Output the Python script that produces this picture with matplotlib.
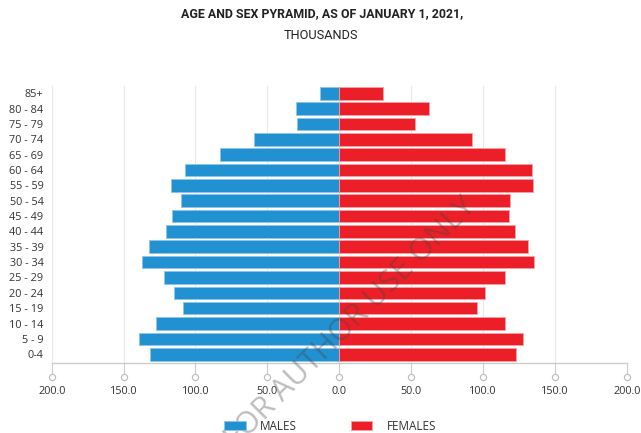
import matplotlib
matplotlib.use("Agg")
import matplotlib.pyplot as plt
from matplotlib import font_manager
from matplotlib.transforms import blended_transform_factory, offset_copy
import numpy as np

# age groups from youngest to oldest
age_groups = ["0-4", "5 - 9", "10 - 14", "15 - 19", "20 - 24", "25 - 29", "30 - 34",
              "35 - 39", "40 - 44", "45 - 49", "50 - 54", "55 - 59", "60 - 64",
              "65 - 69", "70 - 74", "75 - 79", "80 - 84", "85+"]
males = [131.6, 139.3, 127.5, 108.7, 114.7, 122.1, 137.4, 132.1, 120.5, 116.1,
         110.3, 116.8, 107.0, 82.7, 59.3, 29.4, 30.1, 13.4]
females = [122.7, 128.2, 115.2, 96.0, 101.3, 115.0, 135.6, 131.0, 122.0, 118.2,
           118.9, 134.9, 134.0, 115.4, 92.5, 52.9, 62.4, 30.4]
xticks = [-200, -150, -100, -50, 0, 50, 100, 150, 200]

blue = "#2291d1"
red = "#ec1f28"
txt = "#333333"

# narrow font for the title if there is one
installed = set(f.name for f in font_manager.fontManager.ttflist)
if "Liberation Sans Narrow" in installed:
    title_font, title_size, sub_size = "Liberation Sans Narrow", 9.5, 9.5
else:
    title_font, title_size, sub_size = "Roboto", 8.9, 9.2

fig = plt.figure(figsize=(6.41, 4.33), dpi=100)
ax = fig.add_axes([0.0807, 0.1628, 0.8970, 0.6386])

y = np.arange(len(age_groups))
ax.barh(y, -np.array(males), height=0.82, color=blue, edgecolor="#8cc6ea",
        linewidth=0.6, label="MALES", zorder=3)
ax.barh(y, females, height=0.82, color=red, edgecolor="#f5a0a4",
        linewidth=0.6, label="FEMALES", zorder=3)

ax.set_xlim(-200, 200)
ax.set_ylim(-0.54, len(age_groups) - 0.53)
ax.set_yticks(y)
ax.set_yticklabels(age_groups, fontsize=7.8, color=txt, family="Open Sans")
ax.set_xticks(xticks)
ax.set_xticklabels(["%.1f" % abs(v) for v in xticks], fontsize=7.8, color=txt,
                   family="Open Sans")
ax.tick_params(axis="y", length=0, pad=6)
ax.tick_params(axis="x", length=8, width=0.8, color="#cccccc", pad=9)

ax.grid(axis="x", color="#e8e8e8", linewidth=0.8, zorder=0)
for s in ["top", "right", "left"]:
    ax.spines[s].set_visible(False)
ax.spines["bottom"].set_color("#cccccc")
ax.spines["bottom"].set_linewidth(1.0)

# little circles at the end of the tick marks
trans = offset_copy(blended_transform_factory(ax.transData, ax.transAxes),
                    fig=fig, y=-14, units="dots")
ax.plot(xticks, [0] * len(xticks), "o", ms=4.5, mfc="white", mec="#bbbbbb",
        mew=0.8, transform=trans, clip_on=False, zorder=4)

fig.text(0.503, 0.968, "AGE AND SEX PYRAMID, AS OF JANUARY 1, 2021,",
         ha="center", va="center", fontsize=title_size, fontweight="bold",
         color="#222222", family=title_font)
fig.text(0.501, 0.919, "THOUSANDS", ha="center", va="center", fontsize=sub_size,
         color="#222222", family=title_font)

fig.legend(loc="center", bbox_to_anchor=(0.515, 0.016), ncol=2, frameon=False,
           handlelength=1.8, handleheight=0.8, handletextpad=1.2,
           columnspacing=4.6, labelcolor=txt, prop={"family": "Open Sans", "size": 8.5})

# watermark
fig.text(0.548, 0.255, "FOR AUTHOR USE ONLY", rotation=45, ha="center", va="center",
         fontsize=22, color="#444444", alpha=0.35, family="Open Sans")

fig.savefig("out.png", dpi=100)
